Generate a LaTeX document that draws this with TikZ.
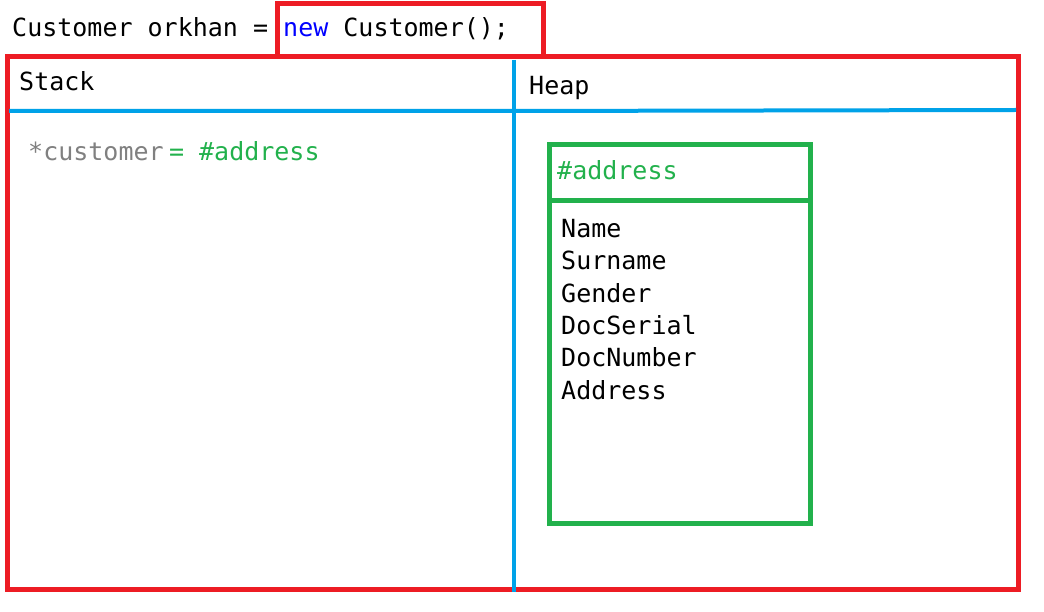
\documentclass[tikz,border=0pt]{standalone}
\usepackage{fontspec}
\setmonofont{DejaVu Sans Mono}
\usetikzlibrary{positioning}
\definecolor{boxred}{HTML}{ED1C24}
\definecolor{divblue}{HTML}{00A2E8}
\definecolor{objgreen}{HTML}{22B14C}
\definecolor{kwblue}{HTML}{0000FF}
\definecolor{ptrgray}{HTML}{808080}
\tikzset{
  code/.style={
    font=\fontsize{25}{30}\selectfont\ttfamily,
    inner sep=0pt,
    anchor=base west
  },
  field/.style={
    code,
    text height=22pt,
    text depth=10pt,
    anchor=north west
  },
  frame/.style={
    draw=boxred,
    line width=5pt
  },
  divider/.style={
    draw=divblue,
    line width=4pt
  },
  objbox/.style={
    draw=objgreen,
    line width=5pt
  }
}
\begin{document}
\begin{tikzpicture}[x=1pt, y=-1pt, node distance=0pt]
    \useasboundingbox (0,0) rectangle (1044,612);

    % statement on top
    \node [code] (decl) at (12,37) {Customer orkhan = };
    \node [code] (ctor) at (283,37) {{\color{kwblue}new} Customer();};
    \draw [frame] (277,4) rectangle (543,57);

    % memory frame
    \draw [frame] (7,57) rectangle (1018,589);
    \coordinate (midtop) at (514,60);
    \coordinate (midbot) at (514,592);
    \coordinate (stackl) at (9,111);
    \coordinate (midline) at (514,111);
    \coordinate (heapr) at (1016,110);
    \draw [divider] (midtop) -- (midbot);
    \draw [divider] (stackl) -- (midline) -- (heapr);

    \node [code] (stack) at (19,91) {Stack};
    \node [code] (heap) at (529,95) {Heap};

    % stack entry
    \node [code, text=ptrgray] (ptr) at (28,161) {*customer};
    \node [code, text=objgreen, right=5pt of ptr.base east, anchor=base west] (ref) {= \#address};

    % heap object
    \draw [objbox] (549,145) rectangle (810,523);
    \coordinate (divl) at (549,201);
    \coordinate (divr) at (813,201);
    \draw [objbox] (divl) -- (divr);
    \node [code, text=objgreen] (addr) at (557,180) {\#address};

    \node [field] (name) at (561,215) {Name};
    \node [field, below=of name.south west, anchor=north west] (surname) {Surname};
    \node [field, below=of surname.south west, anchor=north west] (gender) {Gender};
    \node [field, below=of gender.south west, anchor=north west] (serial) {DocSerial};
    \node [field, below=of serial.south west, anchor=north west] (number) {DocNumber};
    \node [field, below=of number.south west, anchor=north west] (address) {Address};
\end{tikzpicture}
\end{document}
